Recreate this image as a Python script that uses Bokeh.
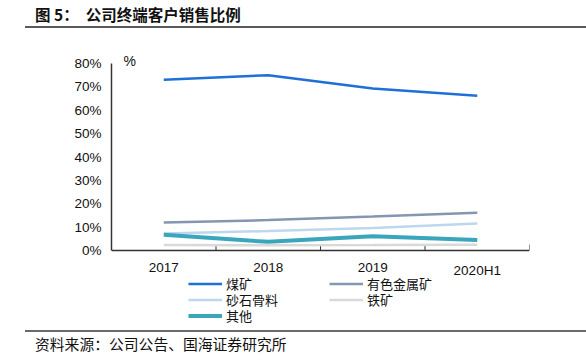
from bokeh.plotting import figure
from bokeh.models import (ColumnDataSource, Range1d, FixedTicker, PrintfTickFormatter,
                          Legend, LegendItem, Div, LinearAxis, Label, Span)
from bokeh.core.properties import value
from bokeh.layouts import column
from bokeh.embed import file_html
from bokeh.resources import INLINE

categories = ["2017", "2018", "2019", "2020H1"]
coal = [73.0, 75.0, 69.3, 66.2]
nonferrous = [12.0, 13.0, 14.5, 16.2]
sand = [7.3, 8.3, 9.6, 11.5]
iron = [2.4, 2.2, 2.3, 2.5]
other = [6.7, 3.7, 6.1, 4.5]
series_names = ["煤矿", "有色金属矿", "砂石骨料", "铁矿", "其他"]
y_ticks = [0, 10, 20, 30, 40, 50, 60, 70, 80]
y_min, y_max = 0, 80

CJK = "Noto Sans CJK SC"
LAT = "Liberation Sans"

# layout constants (pixels)
FRAME_TOP_PAD = 13      # space inside frame above the 80% line
FRAME_BOTTOM_PAD = 78   # space inside frame below the 0% line (x labels + legend)
PLOT_H = 187            # pixel height from 0% to 80%
px_per_unit = PLOT_H / (y_max - y_min)

xs = [i + 0.5 for i in range(len(categories))]
bounds = list(range(1, len(categories) + 1))
src = ColumnDataSource(dict(x=xs, coal=coal, nonferrous=nonferrous, sand=sand, iron=iron, other=other))

p = figure(width=586, height=299, output_backend="svg", toolbar_location=None,
           x_range=Range1d(0, len(categories)),
           y_range=Range1d(y_min - FRAME_BOTTOM_PAD / px_per_unit, y_max + FRAME_TOP_PAD / px_per_unit),
           min_border_left=111, min_border_right=57, min_border_top=19, min_border_bottom=2,
           x_axis_type=None, y_axis_type=None)
p.outline_line_color = None
p.xgrid.visible = False
p.ygrid.visible = False

yaxis = LinearAxis(ticker=FixedTicker(ticks=y_ticks), formatter=PrintfTickFormatter(format="%d%%"),
                   bounds=(y_min, y_max))
yaxis.major_tick_in = 0
yaxis.major_tick_out = 0
yaxis.axis_line_color = "#333333"
yaxis.axis_line_width = 1.5
yaxis.major_label_text_font = LAT
yaxis.major_label_text_font_size = "13.5px"
yaxis.major_label_text_color = "#111111"
yaxis.major_label_standoff = 10
p.add_layout(yaxis, "left")

# x axis drawn inside the frame at y = 0
p.add_layout(Span(location=y_min, dimension="width", line_color="#333333", line_width=1.5))
p.segment(x0=bounds, x1=bounds, y0=[y_min] * len(bounds),
          y1=[y_min + 6 / px_per_unit] * len(bounds), line_color="#333333", line_width=1)
p.text(x=xs, y=[y_min] * len(xs), text=categories, y_offset=12, text_align="center",
       text_baseline="top", text_font=value(LAT), text_font_size="13.5px", text_color="#111111")

r_iron = p.line("x", "iron", source=src, line_color="#d9d9d9", line_width=2.5)
r_sand = p.line("x", "sand", source=src, line_color="#bdd7ee", line_width=2.5)
r_nonf = p.line("x", "nonferrous", source=src, line_color="#8497b0", line_width=2.5)
r_other = p.line("x", "other", source=src, line_color="#3aa6bb", line_width=4)
r_coal = p.line("x", "coal", source=src, line_color="#1f6fd8", line_width=2.5)

p.add_layout(Label(x=0, y=y_max, x_offset=12, y_offset=3, text="%", text_font=LAT,
                   text_font_size="14px", text_baseline="middle", text_color="#111111"))

# legend: one row per Legend, two columns
rows = [[(series_names[0], r_coal), (series_names[1], r_nonf)],
        [(series_names[2], r_sand), (series_names[3], r_iron)],
        [(series_names[4], r_other)]]
row_offsets = [35, 19, 3]
for row, yoff in zip(rows, row_offsets):
    lg = Legend(items=[LegendItem(label=n, renderers=[r]) for n, r in row], orientation="horizontal")
    lg.label_text_font = CJK
    lg.label_text_font_size = "13px"
    lg.label_text_color = "#111111"
    lg.glyph_width = 34
    lg.glyph_height = 13
    lg.label_height = 13
    lg.label_standoff = 4
    lg.label_width = 101
    lg.spacing = 2
    lg.padding = 0
    lg.margin = 0
    lg.border_line_color = None
    lg.background_fill_alpha = 0
    lg.location = (77, yoff)
    p.add_layout(lg, "center")

title_div = Div(
    text=('<div style="margin-left:25px;padding-left:10px;width:561px;height:28px;'
          'box-sizing:border-box;border-bottom:2px solid #5a5a5a;padding-top:5px;'
          'line-height:18px;font-family:\'Noto Sans CJK SC\';font-weight:bold;font-size:15.5px;'
          'color:#111111;white-space:nowrap;">图 5：&nbsp;&nbsp;公司终端客户销售比例</div>'),
    width=586, height=31, margin=(0, 0, 0, 0))
footer_div = Div(
    text=('<div style="margin-left:25px;padding-left:10px;width:561px;'
          'box-sizing:border-box;border-top:2px solid #6b6b6b;padding-top:3px;'
          'line-height:18px;font-family:\'Noto Sans CJK SC\';font-size:14.8px;'
          'color:#111111;white-space:nowrap;">资料来源：公司公告、国海证券研究所</div>'),
    width=586, height=33, margin=(0, 0, 0, 0))

layout = column(title_div, p, footer_div, spacing=0)
open("out.html", "w").write(file_html(layout, INLINE))
